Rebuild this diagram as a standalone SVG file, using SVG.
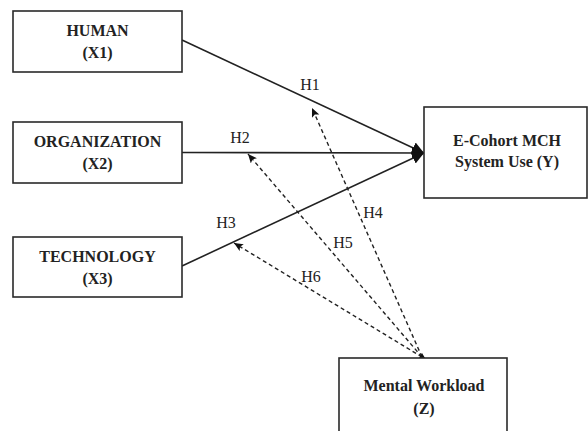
<svg xmlns="http://www.w3.org/2000/svg" width="588" height="431" viewBox="0 0 588 431">
<style>
.box{fill:#fff;stroke:#2a2a2a;stroke-width:1.6}
.nt{font-family:"Liberation Serif","Times New Roman",serif;font-size:16px;font-weight:bold;fill:#222;text-anchor:middle}
.lb{font-family:"Liberation Serif","Times New Roman",serif;font-size:16px;fill:#222;text-anchor:middle}
.solid{stroke:#222;stroke-width:1.6;fill:none}
.dash{stroke:#222;stroke-width:1.4;fill:none;stroke-dasharray:4 3}
</style>
<defs>
<marker id="big" markerUnits="userSpaceOnUse" markerWidth="14" markerHeight="14" refX="12" refY="6" orient="auto">
<path d="M0,0 L12,6 L0,12 Z" fill="#111"/>
</marker>
<marker id="small" markerUnits="userSpaceOnUse" markerWidth="10" markerHeight="10" refX="9" refY="4" orient="auto">
<path d="M0,0 L9,4 L0,8 L2,4 Z" fill="#111"/>
</marker>
</defs>
<rect width="588" height="431" fill="#fff"/>
<g id="connectors">
<line class="solid" x1="182" y1="40" x2="424" y2="153" marker-end="url(#big)"/>
<line class="solid" x1="182" y1="152.5" x2="424" y2="153" marker-end="url(#big)"/>
<line class="solid" x1="182" y1="266" x2="424" y2="153" marker-end="url(#big)"/>
<line class="dash" x1="422" y1="357" x2="312" y2="108" marker-end="url(#small)"/>
<line class="dash" x1="422" y1="357" x2="248" y2="154" marker-end="url(#small)"/>
<line class="dash" x1="422" y1="357" x2="234" y2="243" marker-end="url(#small)"/>
<path d="M419,358 L422,353 L425,358 Z" fill="#111"/>
<text class="lb" x="310" y="90">H1</text>
<text class="lb" x="240" y="143">H2</text>
<text class="lb" x="226" y="228">H3</text>
<text class="lb" x="373" y="218">H4</text>
<text class="lb" x="343" y="248">H5</text>
<text class="lb" x="311" y="282">H6</text>
</g>
<g id="human">
<rect class="box" x="13" y="11" width="169" height="61"/>
<text class="nt" x="97.5" y="36">HUMAN</text>
<text class="nt" x="97.5" y="58">(X1)</text>
</g>
<g id="organization">
<rect class="box" x="13" y="122" width="169" height="61"/>
<text class="nt" x="97.5" y="147">ORGANIZATION</text>
<text class="nt" x="97.5" y="169">(X2)</text>
</g>
<g id="technology">
<rect class="box" x="13" y="237" width="169" height="60"/>
<text class="nt" x="97.5" y="262">TECHNOLOGY</text>
<text class="nt" x="97.5" y="284">(X3)</text>
</g>
<g id="ecohort">
<rect class="box" x="424" y="107" width="163" height="91"/>
<text class="nt" x="507" y="146">E-Cohort MCH</text>
<text class="nt" x="507" y="167">System Use (Y)</text>
</g>
<g id="workload">
<rect class="box" x="339" y="358" width="168" height="80"/>
<text class="nt" x="424" y="391">Mental Workload</text>
<text class="nt" x="424" y="414">(Z)</text>
</g>
</svg>
